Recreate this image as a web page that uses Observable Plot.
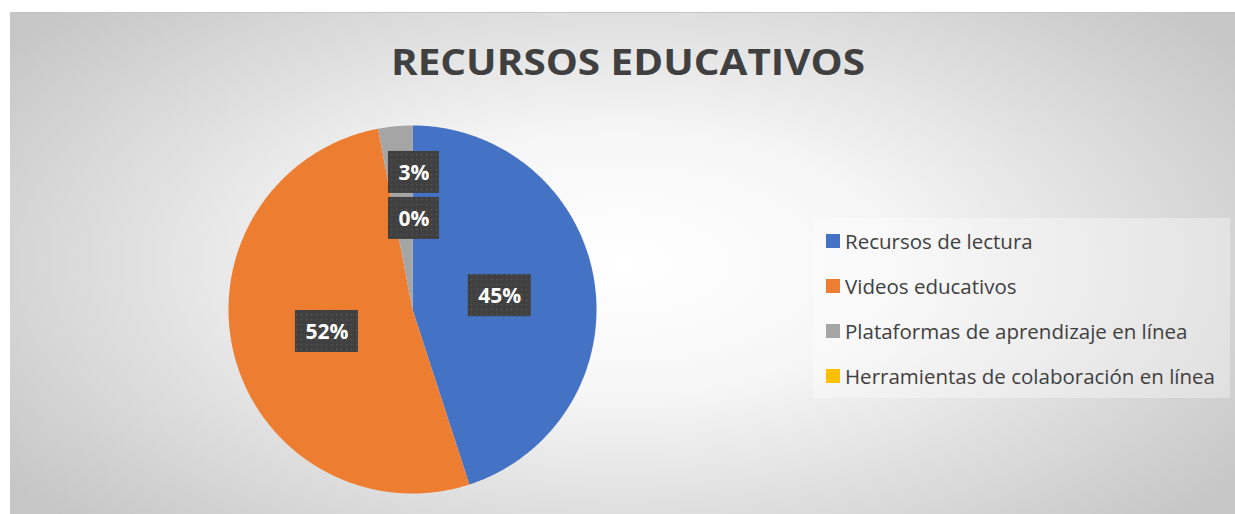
<!DOCTYPE html>
<html>
<head>
<meta charset="utf-8">
<script src="https://cdn.jsdelivr.net/npm/d3@7"></script>
<script src="https://cdn.jsdelivr.net/npm/@observablehq/plot@0.6"></script>
<style>
  html, body { margin: 0; padding: 0; background: #ffffff; }
  #page { position: relative; width: 1235px; height: 514px; overflow: hidden; }
  #area {
    position: absolute; left: 10px; top: 12px; width: 1225px; height: 502px;
    border-top: 1px solid #c4c4c4;
    box-sizing: border-box;
    background: radial-gradient(ellipse 62% 75% at 50% 50%, #ffffff 0%, #f6f6f6 35%, #dcdcdc 70%, #c6c6c6 100%);
  }
  #chart { position: absolute; left: 0; top: 0; }
  #legend {
    position: absolute; left: 803px; top: 205px; width: 417px; height: 180px;
    background: rgba(255,255,255,0.35);
    box-sizing: border-box; padding: 0 0 0 13px;
  }
  #legend .lg-swatches { margin: 0 !important; columns: 1 !important; font-family: "Open Sans", sans-serif !important; color: #404040; }
  #legend .lg-swatch { display: flex !important; align-items: center; height: 45px; padding: 0 !important; margin: 0 !important; font-size: 20.5px !important; font-family: "Open Sans", sans-serif !important; color: #404040; white-space: nowrap; }
  #legend .lg-swatch svg { margin-right: 5px !important; flex-shrink: 0; }
</style>
</head>
<body>
<div id="page"><div id="area"><div id="chart"></div><div id="legend"></div></div></div>
<script>
// ---- data ----
const categories = ["Recursos de lectura", "Videos educativos", "Plataformas de aprendizaje en línea", "Herramientas de colaboración en línea"];
const values = [45, 52, 3, 0];
const colors = ["#4472C4", "#ED7D31", "#A5A5A5", "#FFC000"];
const labels = ["45%", "52%", "3%", "0%"];
const title = "RECURSOS EDUCATIVOS";

const data = categories.map((c, i) => ({category: c, value: values[i], label: labels[i]}));
const arcs = d3.pie().sort(null).value(d => d.value)(data);

// slice outlines in unit-circle coordinates (y up), angle clockwise from 12 o'clock
const slicePts = [];
for (const a of arcs) {
  const n = Math.max(2, Math.ceil((a.endAngle - a.startAngle) / (Math.PI / 360)));
  slicePts.push({category: a.data.category, x: 0, y: 0});
  for (let k = 0; k <= n; ++k) {
    const t = a.startAngle + (a.endAngle - a.startAngle) * k / n;
    slicePts.push({category: a.data.category, x: Math.sin(t), y: Math.cos(t)});
  }
}

// label anchors
const R = 184; // px per unit
const labelRows = [];
let smallIdx = 0;
for (const a of arcs) {
  const mid = (a.startAngle + a.endAngle) / 2;
  let lx, ly;
  if (a.data.value >= 5) { lx = 0.48 * Math.sin(mid); ly = 0.48 * Math.cos(mid); }
  else { lx = 0.008; ly = 0.745 - smallIdx * 0.25; smallIdx++; }
  const hw = (12 * a.data.label.length + 27) / 2 / R;
  const hh = 21 / R;
  labelRows.push({label: a.data.label, x: lx, y: ly, x1: lx - hw, x2: lx + hw, y1: ly - hh, y2: ly + hh});
}

const plot = Plot.plot({
  width: 1225,
  height: 502,
  margin: 0,
  style: {background: "transparent", overflow: "visible"},
  x: {domain: [-1, 1], range: [402 - R, 402 + R], axis: null},
  y: {domain: [-1, 1], range: [296 + R, 296 - R], axis: null},
  color: {domain: categories, range: colors},
  marks: [
    Plot.line(slicePts, {x: "x", y: "y", z: "category", fill: "category", stroke: "none", curve: "linear-closed"}),
    Plot.rect(labelRows, {x1: "x1", x2: "x2", y1: "y1", y2: "y2", fill: "url(#dots)", ariaLabel: "labelbox"}),
    Plot.text(labelRows, {x: "x", y: "y", text: "label", fill: "#ffffff", fontSize: 21, fontWeight: "bold", fontFamily: "Open Sans", textAnchor: "middle", dy: 1})
  ]
});

// defs: dotted pattern + drop shadow
const svg = d3.select(plot);
const defs = svg.insert("defs", ":first-child");
const pat = defs.append("pattern").attr("id", "dots").attr("patternUnits", "userSpaceOnUse").attr("width", 5).attr("height", 5);
pat.append("rect").attr("width", 5).attr("height", 5).attr("fill", "#404040");
pat.append("rect").attr("x", 1).attr("y", 1).attr("width", 1.3).attr("height", 1.3).attr("fill", "#585858");
const f = defs.append("filter").attr("id", "shadow").attr("x", "-30%").attr("y", "-30%").attr("width", "160%").attr("height", "160%");
f.append("feDropShadow").attr("dx", 3).attr("dy", 3).attr("stdDeviation", 2.2).attr("flood-color", "#000").attr("flood-opacity", 0.45);
svg.select('g[aria-label="labelbox"]').attr("filter", "url(#shadow)");

// title
svg.append("text")
  .attr("x", 618).attr("y", 62)
  .attr("text-anchor", "middle")
  .attr("font-family", "Open Sans").attr("font-weight", "bold").attr("font-size", 36)
  .attr("fill", "#404040")
  .attr("textLength", 474).attr("lengthAdjust", "spacingAndGlyphs")
  .text(title);

document.getElementById("chart").appendChild(plot);

// legend
const leg = Plot.legend({color: {domain: categories, range: colors}, legend: "swatches", columns: 1, swatchSize: 14, className: "lg"});
document.getElementById("legend").appendChild(leg);
</script>
</body>
</html>
